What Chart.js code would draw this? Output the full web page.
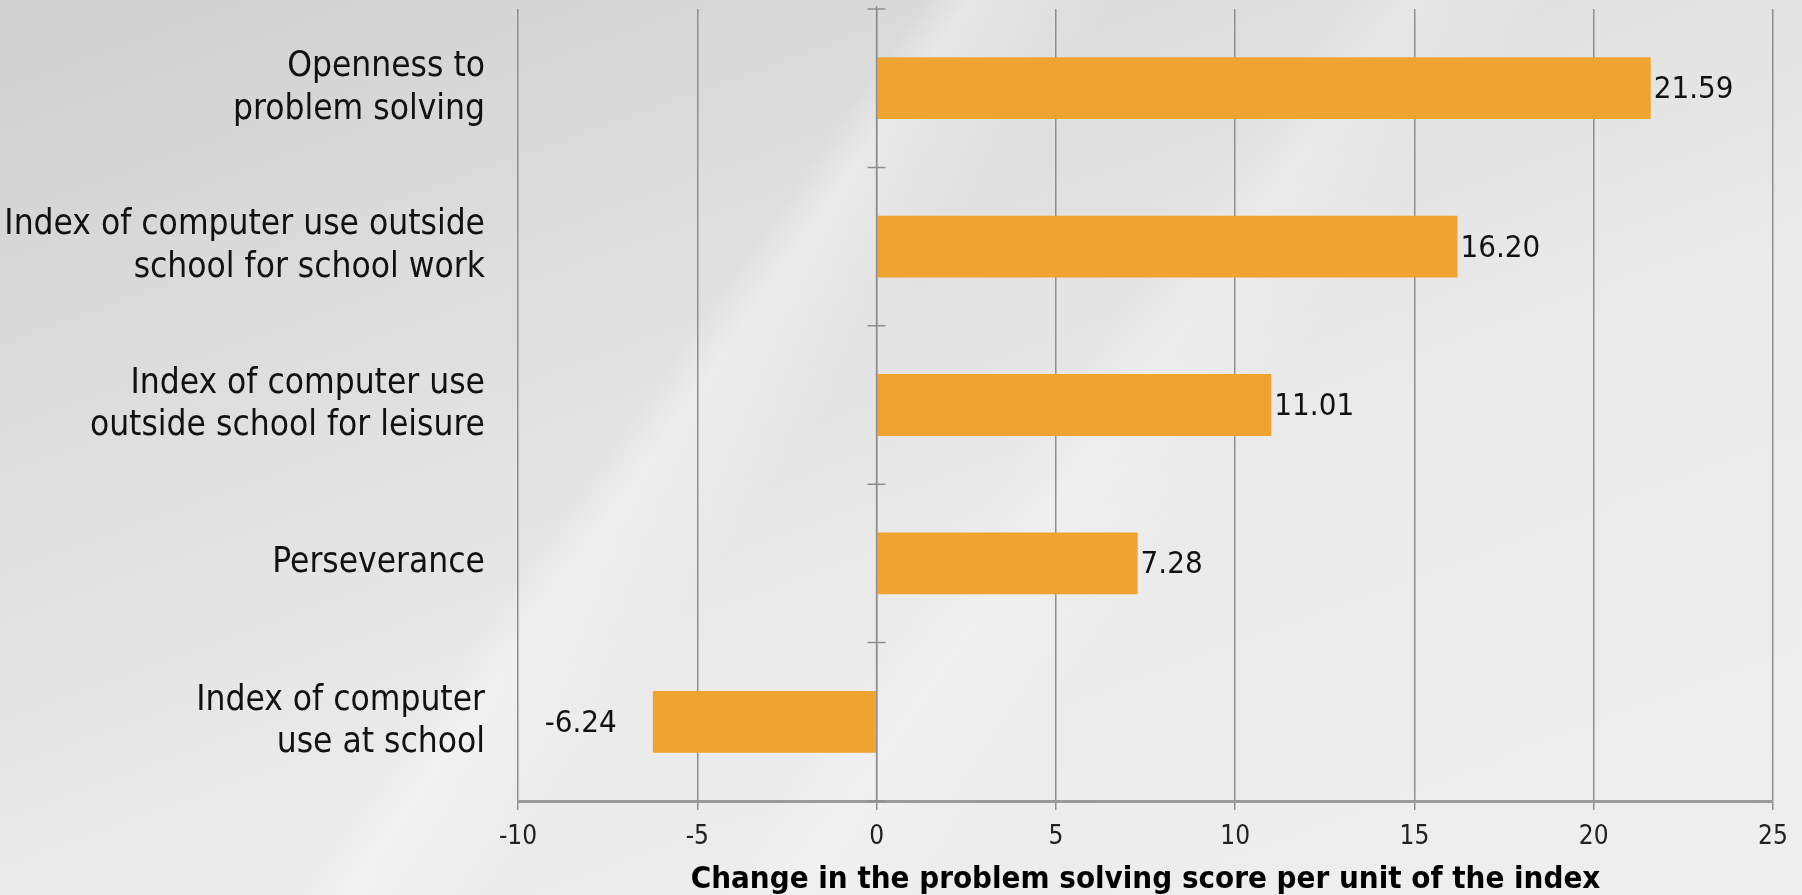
<!DOCTYPE html>
<html>
<head>
<meta charset="utf-8">
<script src="https://cdn.jsdelivr.net/npm/chart.js@4.4.1/dist/chart.umd.min.js"></script>
<style>
  html, body { margin: 0; padding: 0; }
  body {
    width: 1802px; height: 895px; overflow: hidden;
    background:
      linear-gradient(125deg, rgba(255,255,255,0) 38%, rgba(255,255,255,0.35) 40%, rgba(255,255,255,0) 46%),
      linear-gradient(125deg, rgba(255,255,255,0) 55%, rgba(255,255,255,0.25) 58%, rgba(255,255,255,0) 64%),
      linear-gradient(160deg, #cfcfcf 0%, #dedede 30%, #ebebeb 60%, #efefef 100%);
  }
  canvas { display: block; }
</style>
</head>
<body>
<canvas id="chart" width="1802" height="895"></canvas>
<script>
/* data */
const categories = [
  ['Openness to', 'problem solving'],
  ['Index of computer use outside', 'school for school work'],
  ['Index of computer use', 'outside school for leisure'],
  ['Perseverance'],
  ['Index of computer', 'use at school']
];
const scoreChange = [21.59, 16.20, 11.01, 7.28, -6.24];
const xTicks = [-10, -5, 0, 5, 10, 15, 20, 25];

const FONT = "'Liberation Sans Narrow', 'Arial Narrow', 'DejaVu Sans Condensed', sans-serif";
const GRID = '#8e8e8e';

/* small cross ticks on the zero line, at category boundaries */
const zeroTicks = {
  id: 'zeroTicks',
  afterDatasetsDraw(chart) {
    const { ctx, scales: { x, y } } = chart;
    const x0 = x.getPixelForValue(0);
    const half = (y.getPixelForValue(1) - y.getPixelForValue(0)) / 2;
    ctx.save();
    ctx.strokeStyle = GRID;
    ctx.lineWidth = 1.5;
    ctx.beginPath();
    ctx.moveTo(x0, y.top - 3);
    ctx.lineTo(x0, y.bottom);
    for (let i = 0; i <= categories.length; i++) {
      const py = y.getPixelForValue(i) - half;
      ctx.moveTo(x0 - 9, py);
      ctx.lineTo(x0 + 9, py);
    }
    ctx.stroke();
    ctx.restore();
  }
};

/* value labels next to the bars */
const valueLabels = {
  id: 'valueLabels',
  afterDatasetsDraw(chart) {
    const { ctx } = chart;
    const meta = chart.getDatasetMeta(0);
    ctx.save();
    ctx.font = '31px ' + FONT;
    ctx.fillStyle = '#111';
    ctx.textBaseline = 'middle';
    meta.data.forEach((bar, i) => {
      const v = scoreChange[i];
      if (v >= 0) {
        ctx.textAlign = 'left';
        ctx.fillText(v.toFixed(2), bar.x + 3, bar.y + 2);
      } else {
        ctx.textAlign = 'right';
        ctx.fillText(v.toFixed(2), bar.x - 36, bar.y + 2);
      }
    });
    ctx.restore();
  }
};

new Chart(document.getElementById('chart').getContext('2d'), {
  type: 'bar',
  data: {
    labels: categories,
    datasets: [{
      data: scoreChange,
      backgroundColor: '#EFA330',
      borderWidth: 0,
      barPercentage: 0.39,
      categoryPercentage: 1
    }]
  },
  options: {
    indexAxis: 'y',
    responsive: false,
    animation: false,
    layout: { padding: { top: 9, right: 29, left: 0, bottom: 0 } },
    plugins: { legend: { display: false }, tooltip: { enabled: false } },
    scales: {
      x: {
        min: xTicks[0],
        max: xTicks[xTicks.length - 1],
        afterBuildTicks: s => { s.ticks = xTicks.map(v => ({ value: v })); },
        afterFit: s => { s.height = 94; s.paddingLeft = 0; s.paddingRight = 0; },
        grid: { color: GRID, lineWidth: 1.5, tickLength: 9, tickColor: GRID },
        border: { display: true, color: '#9a9a9a', width: 3 },
        ticks: { color: '#222', font: { family: FONT, size: 26 }, padding: 12 },
        title: {
          display: true,
          text: 'Change in the problem solving score per unit of the index',
          color: '#000',
          font: { family: FONT, size: 31, weight: 'bold', lineHeight: 1.0 },
          padding: { top: 0, bottom: 0 }
        }
      },
      y: {
        afterFit: s => { s.width = 518; s.paddingTop = 0; s.paddingBottom = 0; },
        grid: { display: false, drawTicks: false },
        border: { display: false },
        ticks: { color: '#111', font: { family: FONT, size: 35, lineHeight: 1.22 }, padding: 33 }
      }
    }
  },
  plugins: [zeroTicks, valueLabels]
});
</script>
</body>
</html>
